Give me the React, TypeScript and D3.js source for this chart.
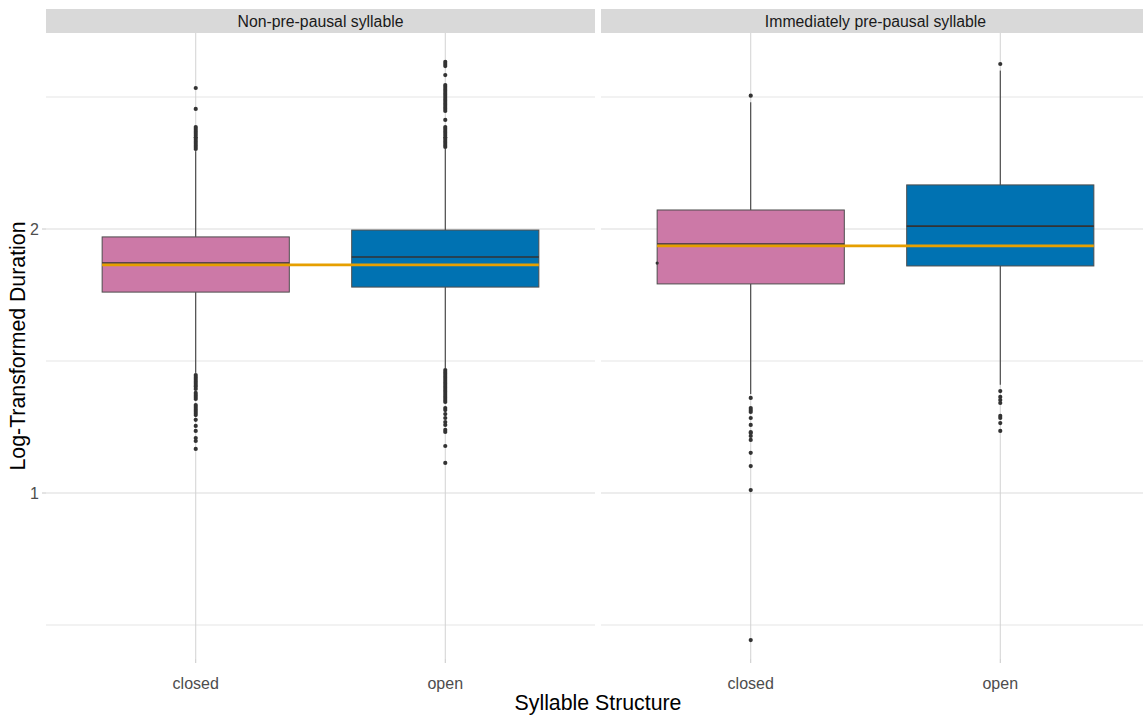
import React from "react";
import * as d3 from "d3";

const facets = ["Non-pre-pausal syllable", "Immediately pre-pausal syllable"];
const categories = ["closed", "open"];
const fills = ["#CC79A7", "#0072B2"];

// per facet: [closed, open]
const lowerWhisker = [[1.455, 1.472], [1.375, 1.41]];
const q1 = [[1.761, 1.78], [1.792, 1.86]];
const median = [[1.871, 1.894], [1.943, 2.011]];
const q3 = [[1.97, 1.996], [2.072, 2.167]];
const upperWhisker = [[2.295, 2.305], [2.48, 2.6]];
const meanLine = [1.864, 1.936];

const outliersNonClosed = [
  2.534, 2.455, 2.386, 2.379, 2.371, 2.364, 2.356, 2.348, 2.341, 2.333, 2.326, 2.318, 2.311, 2.303,
  1.447, 1.439, 1.432, 1.424, 1.417, 1.409, 1.402, 1.394, 1.379, 1.371, 1.364, 1.356, 1.333, 1.326,
  1.318, 1.311, 1.303, 1.295, 1.277, 1.254, 1.235, 1.208, 1.197, 1.167,
];
const outliersNonOpen = [
  2.633, 2.625, 2.617, 2.583, 2.545, 2.538, 2.53, 2.523, 2.515, 2.508, 2.5, 2.492, 2.485, 2.477, 2.47,
  2.462, 2.455, 2.447, 2.413, 2.386, 2.379, 2.371, 2.364, 2.356, 2.348, 2.341, 2.333, 2.326, 2.318, 2.311,
  1.466, 1.458, 1.451, 1.443, 1.436, 1.428, 1.42, 1.413, 1.405, 1.398, 1.39, 1.383, 1.375, 1.367, 1.36,
  1.352, 1.345, 1.322, 1.314, 1.299, 1.284, 1.269, 1.258, 1.239, 1.231, 1.178, 1.114,
];
const outliersPreClosed = [
  2.505, 1.36, 1.322, 1.314, 1.307, 1.284, 1.258, 1.231, 1.227, 1.216, 1.201, 1.152, 1.102, 1.011, 0.443,
];
const outliersPreOpen = [2.625, 1.386, 1.364, 1.352, 1.341, 1.292, 1.284, 1.265, 1.235];
const outliers = [[outliersNonClosed, outliersNonOpen], [outliersPreClosed, outliersPreOpen]];

// a stray point drawn at the left edge of the pre-pausal closed box
const strayFacet = [1];
const strayCategory = ["closed"];
const strayValue = [1.871];

const yMajor = [1, 2];
const yMinor = [0.5, 1.5, 2.5];

const W = 1143;
const H = 715;
const panelLefts = [46, 601];
const panelWidth = 549;
const panelTop = 33;
const panelBottom = 659;
const stripTop = 9;
const font = "'Liberation Sans', Arial, sans-serif";

export default function App() {
  const y = d3.scaleLinear().domain([1, 2]).range([493, 229]);
  const xs = panelLefts.map((l) =>
    d3.scalePoint<string>().domain(categories).range([l, l + panelWidth]).padding(0.6)
  );
  const step = xs[0].step();
  const bw = step * 0.75;

  return (
    <svg width={W} height={H} style={{ position: "absolute", left: 0, top: 0, background: "#fff" }}>
      <defs>
        {panelLefts.map((l, i) => (
          <clipPath id={`clip${i}`} key={i}>
            <rect x={l} y={panelTop} width={panelWidth} height={panelBottom - panelTop} />
          </clipPath>
        ))}
      </defs>
      {facets.map((f, fi) => {
        const x = xs[fi];
        const l = panelLefts[fi];
        return (
          <g key={f}>
            <g clipPath={`url(#clip${fi})`}>
              {yMinor.map((v) => (
                <line key={v} x1={l} x2={l + panelWidth} y1={y(v)} y2={y(v)} stroke="#e6e6e6" strokeWidth={1.2} />
              ))}
              {yMajor.map((v) => (
                <line key={v} x1={l} x2={l + panelWidth} y1={y(v)} y2={y(v)} stroke="#dcdcdc" strokeWidth={1.2} />
              ))}
              {categories.map((c) => (
                <line key={c} x1={x(c)} x2={x(c)} y1={panelTop} y2={panelBottom} stroke="#d2d2d2" strokeWidth={1} />
              ))}
              {categories.map((c, ci) => {
                const cx = x(c)!;
                return (
                  <g key={c}>
                    <line x1={cx} x2={cx} y1={y(upperWhisker[fi][ci])} y2={y(q3[fi][ci])} stroke="#333" strokeWidth={1} />
                    <line x1={cx} x2={cx} y1={y(q1[fi][ci])} y2={y(lowerWhisker[fi][ci])} stroke="#333" strokeWidth={1} />
                    <rect
                      x={cx - bw / 2}
                      y={y(q3[fi][ci])}
                      width={bw}
                      height={y(q1[fi][ci]) - y(q3[fi][ci])}
                      fill={fills[ci]}
                      stroke="#4d4d4d"
                      strokeWidth={1}
                    />
                    <line x1={cx - bw / 2} x2={cx + bw / 2} y1={y(median[fi][ci])} y2={y(median[fi][ci])} stroke="#333" strokeWidth={1.6} />
                    {outliers[fi][ci].map((v, k) => (
                      <circle key={k} cx={cx} cy={y(v)} r={2.1} fill="#333" />
                    ))}
                  </g>
                );
              })}
              <line
                x1={x(categories[0])! - bw / 2}
                x2={x(categories[1])! + bw / 2}
                y1={y(meanLine[fi])}
                y2={y(meanLine[fi])}
                stroke="#E69F00"
                strokeWidth={2.6}
              />
              {strayFacet.map((sf, k) =>
                sf === fi ? (
                  <circle key={k} cx={x(strayCategory[k])! - bw / 2} cy={y(strayValue[k])} r={1.6} fill="#333" />
                ) : null
              )}
            </g>
            {/* strip */}
            <rect x={l} y={stripTop} width={panelWidth} height={panelTop - stripTop} fill="#d9d9d9" />
            <text
              x={l + panelWidth / 2}
              y={(stripTop + panelTop) / 2}
              dy="0.35em"
              textAnchor="middle"
              fontFamily={font}
              fontSize={15.8}
              fill="#1a1a1a"
            >
              {f}
            </text>
            {/* x ticks */}
            {categories.map((c) => (
              <g key={c}>
                <line x1={x(c)} x2={x(c)} y1={panelBottom} y2={panelBottom + 4} stroke="#c8c8c8" />
                <text x={x(c)} y={683} dy="0.35em" textAnchor="middle" fontFamily={font} fontSize={16} fill="#4d4d4d">
                  {c}
                </text>
              </g>
            ))}
          </g>
        );
      })}
      {/* y axis */}
      {yMajor.map((v) => (
        <g key={v}>
          <line x1={42} x2={46} y1={y(v)} y2={y(v)} stroke="#c8c8c8" />
          <text x={39} y={y(v)} dy="0.35em" textAnchor="end" fontFamily={font} fontSize={16} fill="#4d4d4d">
            {v}
          </text>
        </g>
      ))}
      <text
        transform={`translate(18,${(panelTop + panelBottom) / 2}) rotate(-90)`}
        dy="0.35em"
        textAnchor="middle"
        fontFamily={font}
        fontSize={21.3}
        fill="#000"
      >
        Log-Transformed Duration
      </text>
      <text x={598} y={703} dy="0.35em" textAnchor="middle" fontFamily={font} fontSize={21.3} fill="#000">
        Syllable Structure
      </text>
    </svg>
  );
}
